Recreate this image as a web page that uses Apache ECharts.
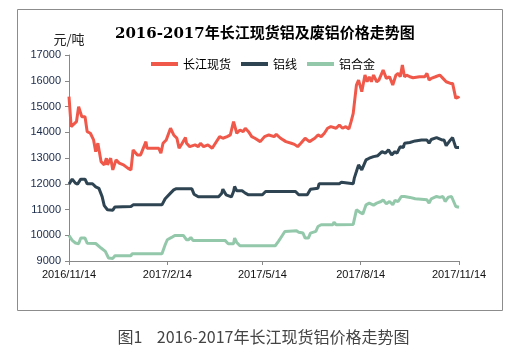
<!DOCTYPE html>
<html>
<head>
<meta charset="utf-8">
<script src="https://cdn.jsdelivr.net/npm/echarts@6/dist/echarts.min.js"></script>
<style>
  html, body { margin: 0; padding: 0; background: #fff; }
  #chart { width: 527px; height: 352px; }
</style>
</head>
<body>
<div id="chart"></div>
<script>
// 长江现货
var spotDates = ['2016-11-14','2016-11-16','2016-11-17','2016-11-21','2016-11-23','2016-11-26','2016-11-29','2016-12-01','2016-12-04','2016-12-07','2016-12-09','2016-12-11','2016-12-14','2016-12-17','2016-12-19','2016-12-20','2016-12-23','2016-12-25','2016-12-28','2016-12-31',
  '2017-01-04','2017-01-08','2017-01-11','2017-01-13','2017-01-17','2017-01-20','2017-01-25','2017-01-26','2017-02-06','2017-02-08','2017-02-10','2017-02-13','2017-02-17','2017-02-20','2017-02-23','2017-02-25','2017-02-27',
  '2017-03-03','2017-03-04','2017-03-07','2017-03-12','2017-03-15','2017-03-17','2017-03-20','2017-03-24','2017-03-28','2017-03-31','2017-04-04','2017-04-07','2017-04-11','2017-04-14','2017-04-17','2017-04-20','2017-04-23','2017-04-26','2017-04-28',
  '2017-05-01','2017-05-04','2017-05-07','2017-05-12','2017-05-13','2017-05-16','2017-05-20','2017-05-25','2017-05-27','2017-05-31','2017-06-05','2017-06-10','2017-06-13','2017-06-16','2017-06-19','2017-06-23','2017-06-27',
  '2017-07-02','2017-07-05','2017-07-08','2017-07-11','2017-07-14','2017-07-17','2017-07-22','2017-07-25','2017-07-28','2017-07-31','2017-08-03','2017-08-05','2017-08-07','2017-08-10','2017-08-12','2017-08-15','2017-08-16','2017-08-18','2017-08-20','2017-08-22','2017-08-24','2017-08-26','2017-08-29','2017-08-31',
  '2017-09-04','2017-09-07','2017-09-10','2017-09-13','2017-09-16','2017-09-18','2017-09-20','2017-09-22','2017-09-24','2017-09-26','2017-09-29','2017-10-02','2017-10-08','2017-10-13','2017-10-15','2017-10-17','2017-10-19','2017-10-23','2017-10-27','2017-10-30',
  '2017-11-02','2017-11-06','2017-11-08','2017-11-09','2017-11-11','2017-11-13','2017-11-14'];
var spotValues = [15380,14217,14230,14411,14992,14605,14605,14023,13961,13700,13248,13573,12861,12733,12992,12733,12992,12539,12926,12800,
  12733,12605,12539,13314,13120,13120,13636,13380,13380,13186,13573,13701,14155,13895,13767,13380,13508,
  13791,13573,13442,13508,13442,13573,13442,13508,13380,13573,13830,13767,13830,13895,14411,13961,14089,14023,14155,
  14023,13830,13767,13636,13700,13830,13895,13830,13921,13767,13636,13573,13530,13442,13573,13767,13636,
  13767,13895,13830,13961,14155,14217,14155,14283,14155,14217,14130,14411,14736,15833,16027,15574,15510,16221,15961,16155,15961,16221,15961,16027,
  16415,16093,16155,15833,16221,16286,16155,16609,16155,16221,16155,16117,16155,16155,16286,16027,16093,16155,16221,16093,
  15961,15897,15897,15703,15318,15380,15318];

// 铝线
var wireDates = ['2016-11-14','2016-11-17','2016-11-20','2016-11-22','2016-11-25','2016-11-29','2016-12-01','2016-12-06','2016-12-09','2016-12-12','2016-12-15','2016-12-17','2016-12-20','2016-12-25','2016-12-27',
  '2017-01-11','2017-01-13','2017-02-09','2017-02-12','2017-02-17','2017-02-20','2017-02-22','2017-03-09','2017-03-11','2017-03-15','2017-04-03','2017-04-06','2017-04-07','2017-04-10','2017-04-15','2017-04-17','2017-04-18','2017-04-20','2017-04-25','2017-04-28',
  '2017-05-01','2017-05-14','2017-05-17','2017-06-14','2017-06-17','2017-06-25','2017-06-28','2017-07-05','2017-07-06','2017-07-16','2017-07-17','2017-07-19','2017-07-25','2017-07-27','2017-07-28',
  '2017-08-07','2017-08-08','2017-08-10','2017-08-12','2017-08-15','2017-08-16','2017-08-19','2017-08-22','2017-08-26','2017-08-30','2017-09-03','2017-09-06','2017-09-09','2017-09-12','2017-09-15','2017-09-17','2017-09-20','2017-09-23','2017-09-24','2017-09-29',
  '2017-10-04','2017-10-10','2017-10-15','2017-10-17','2017-10-19','2017-10-24','2017-10-29','2017-10-31','2017-11-02','2017-11-06','2017-11-08','2017-11-11','2017-11-14'];
var wireValues = [11985,12178,12023,11985,12178,12178,12000,12000,11880,11820,11500,11150,10990,10975,11100,
  11116,11180,11180,11420,11635,11760,11802,11802,11596,11492,11492,11635,11790,11570,11492,11700,11892,11725,11725,11635,
  11570,11570,11700,11700,11570,11570,11790,11829,12000,12000,12062,12000,12000,12062,12000,
  12000,12217,12473,12733,12539,12539,12926,12992,13054,13090,13248,13186,13314,13120,13248,13186,13442,13410,13573,13600,
  13663,13701,13701,13573,13720,13791,13701,13701,13481,13701,13791,13403,13403];

// 铝合金
var alloyDates = ['2016-11-14','2016-11-17','2016-11-20','2016-11-23','2016-11-25','2016-11-29','2016-12-01','2016-12-09','2016-12-14','2016-12-18','2016-12-21','2016-12-25','2016-12-27',
  '2017-01-11','2017-01-12','2017-02-09','2017-02-12','2017-02-14','2017-02-18','2017-02-21','2017-03-01','2017-03-04','2017-03-06','2017-03-08','2017-03-10','2017-04-09','2017-04-12','2017-04-17','2017-04-18','2017-04-20','2017-04-23',
  '2017-05-26','2017-05-29','2017-06-01','2017-06-04','2017-06-15','2017-06-17','2017-06-21','2017-06-23','2017-06-26','2017-06-28','2017-07-03','2017-07-05','2017-07-08','2017-07-19','2017-07-20','2017-07-22',
  '2017-08-07','2017-08-10','2017-08-13','2017-08-16','2017-08-19','2017-08-22','2017-08-26','2017-08-29','2017-09-02','2017-09-04','2017-09-07','2017-09-10','2017-09-13','2017-09-15','2017-09-18','2017-09-21','2017-09-24','2017-09-29',
  '2017-10-04','2017-10-15','2017-10-17','2017-10-19','2017-10-24','2017-10-27','2017-10-30','2017-11-01','2017-11-04','2017-11-07','2017-11-09','2017-11-11','2017-11-14'];
var alloyValues = [9990,9800,9700,9670,9891,9891,9690,9680,9504,9372,9116,9100,9205,
  9205,9283,9283,9632,9826,9915,9992,9992,9826,9830,9915,9800,9800,9670,9670,9891,9720,9593,
  9593,9760,9953,10147,10170,10120,10085,9891,9891,10085,10150,10340,10407,10407,10510,10407,
  10420,10988,10900,10830,11182,11248,11170,11248,11310,11376,11220,11310,11182,11350,11310,11505,11505,11470,
  11415,11376,11248,11415,11505,11470,11505,11310,11480,11505,11310,11116,11090];

var tickDates = ['2016-11-14','2017-02-14','2017-05-14','2017-08-14','2017-11-14'];

function toTime(s) {
  var p = s.split('-');
  return new Date(+p[0], +p[1] - 1, +p[2]).getTime();
}
function pairs(dates, values) {
  return dates.map(function (d, i) { return [toTime(d), values[i]]; });
}
var tickTimes = tickDates.map(toTime);

var chart = echarts.init(document.getElementById('chart'));
chart.setOption({
  animation: false,
  title: {
    text: '2016-2017年长江现货铝及废铝价格走势图',
    left: 110,
    top: 22,
    textStyle: { fontSize: 15, fontWeight: 'bold', color: '#000', fontFamily: '"DejaVu Serif", "Noto Sans CJK SC"' }
  },
  legend: {
    left: 146,
    top: 53,
    icon: 'rect',
    itemWidth: 27,
    itemHeight: 4,
    itemGap: 10,
    textStyle: { fontSize: 12, color: '#000', fontFamily: '"Noto Sans CJK SC"' },
    data: ['长江现货', '铝线', '铝合金']
  },
  grid: { left: 69, right: 68, top: 55, bottom: 91 },
  xAxis: {
    // 日期按时间戳放在数值轴上，刻度用自定义的日期
    type: 'value',
    min: tickTimes[0],
    max: tickTimes[tickTimes.length - 1],
    axisLine: { lineStyle: { color: '#888' } },
    axisTick: { show: true, length: 4, customValues: tickTimes, lineStyle: { color: '#888' } },
    axisLabel: {
      customValues: tickTimes,
      margin: 8,
      fontSize: 11,
      color: '#111',
      fontFamily: '"Liberation Sans", Arial',
      formatter: function (v) {
        var d = new Date(v);
        return d.getFullYear() + '/' + (d.getMonth() + 1) + '/' + d.getDate();
      }
    },
    splitLine: { show: false }
  },
  yAxis: {
    type: 'value',
    min: 9000,
    max: 17000,
    interval: 1000,
    name: '元/吨',
    nameLocation: 'end',
    nameGap: 9,
    nameTextStyle: { fontSize: 13, color: '#222', fontFamily: '"Noto Sans CJK SC"', align: 'center' },
    axisLine: { show: true, lineStyle: { color: '#888' } },
    axisTick: { show: true, length: 4, lineStyle: { color: '#888' } },
    axisLabel: {
      fontSize: 11, color: '#1a2a4a', margin: 8, fontFamily: '"Liberation Sans", Arial',
      formatter: function (v) { return String(v); }
    },
    splitLine: { show: false }
  },
  series: [
    { name: '长江现货', type: 'line', showSymbol: false, data: pairs(spotDates, spotValues),
      itemStyle: { color: '#f0584a' }, lineStyle: { width: 3, color: '#f0584a' } },
    { name: '铝线', type: 'line', showSymbol: false, data: pairs(wireDates, wireValues),
      itemStyle: { color: '#2e4453' }, lineStyle: { width: 3, color: '#2e4453' } },
    { name: '铝合金', type: 'line', showSymbol: false, data: pairs(alloyDates, alloyValues),
      itemStyle: { color: '#94c8ab' }, lineStyle: { width: 3, color: '#94c8ab' } }
  ],
  graphic: [
    { type: 'rect', silent: true, shape: { x: 17.5, y: 9.5, width: 485, height: 301 },
      style: { fill: 'none', stroke: '#8c8c8c', lineWidth: 1 } },
    { type: 'text', left: 'center', top: 329, silent: true,
      style: { text: '图1    2016-2017年长江现货铝价格走势图', fontSize: 16, fill: '#444', fontFamily: '"Noto Sans CJK SC"' } }
  ]
});
</script>
</body>
</html>
